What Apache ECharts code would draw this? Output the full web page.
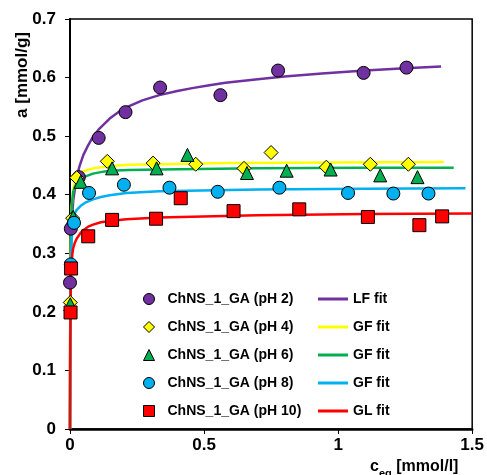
<!DOCTYPE html>
<html>
<head>
<meta charset="utf-8">
<script src="https://cdn.jsdelivr.net/npm/echarts@6/dist/echarts.min.js"></script>
<style>html,body{margin:0;padding:0;background:#fff;}#c{width:487px;height:475px;}</style>
</head>
<body>
<div id="c"></div>
<script>
// ---- measured data (c_eq [mmol/l], a [mmol/g]) ----
var ph2X = [0.000, 0.003, 0.033, 0.107, 0.207, 0.336, 0.561, 0.776, 1.095, 1.255];
var ph2Y = [0.250, 0.342, 0.430, 0.497, 0.541, 0.583, 0.570, 0.612, 0.608, 0.617];

var ph4X = [0.001, 0.010, 0.025, 0.139, 0.310, 0.469, 0.649, 0.750, 0.956, 1.120, 1.262];
var ph4Y = [0.216, 0.360, 0.429, 0.457, 0.454, 0.452, 0.445, 0.472, 0.447, 0.452, 0.452];

var ph6X = [0.001, 0.012, 0.040, 0.157, 0.323, 0.438, 0.660, 0.808, 0.972, 1.157, 1.296];
var ph6Y = [0.213, 0.362, 0.422, 0.445, 0.445, 0.468, 0.437, 0.441, 0.443, 0.433, 0.430];

var ph8X = [0.003, 0.015, 0.071, 0.201, 0.371, 0.551, 0.781, 1.037, 1.206, 1.337];
var ph8Y = [0.281, 0.352, 0.403, 0.417, 0.412, 0.405, 0.412, 0.403, 0.402, 0.402];

var ph10X = [0.002, 0.004, 0.068, 0.157, 0.321, 0.413, 0.610, 0.855, 1.111, 1.303, 1.388];
var ph10Y = [0.199, 0.274, 0.329, 0.357, 0.359, 0.394, 0.372, 0.375, 0.362, 0.348, 0.363];

// ---- fitted curves ----
var lfX = [0, 0.001, 0.003, 0.006, 0.012, 0.020, 0.028, 0.035, 0.050, 0.065, 0.086, 0.110, 0.148, 0.180, 0.210, 0.270, 0.333, 0.400, 0.456, 0.520, 0.580, 0.700, 0.800, 0.940, 1.100, 1.250, 1.384];
var lfY = [0, 0.220, 0.300, 0.350, 0.390, 0.415, 0.435, 0.448, 0.468, 0.482, 0.499, 0.513, 0.530, 0.541, 0.549, 0.561, 0.570, 0.577, 0.582, 0.587, 0.591, 0.597, 0.602, 0.607, 0.612, 0.616, 0.619];

var gf4X = [0, 0.001, 0.003, 0.006, 0.012, 0.018, 0.025, 0.035, 0.050, 0.070, 0.086, 0.120, 0.148, 0.220, 0.333, 0.600, 1.000, 1.394];
var gf4Y = [0, 0.220, 0.330, 0.380, 0.410, 0.422, 0.430, 0.436, 0.440, 0.443, 0.445, 0.447, 0.449, 0.451, 0.452, 0.454, 0.455, 0.456];

var gf6X = [0, 0.001, 0.003, 0.006, 0.009, 0.012, 0.018, 0.027, 0.037, 0.055, 0.086, 0.120, 0.148, 0.220, 0.333, 0.700, 1.100, 1.431];
var gf6Y = [0, 0.200, 0.310, 0.370, 0.393, 0.405, 0.414, 0.421, 0.426, 0.431, 0.436, 0.439, 0.441, 0.442, 0.443, 0.445, 0.446, 0.446];

var gf8X = [0, 0.001, 0.003, 0.006, 0.009, 0.012, 0.018, 0.025, 0.040, 0.055, 0.070, 0.086, 0.115, 0.148, 0.210, 0.333, 0.700, 1.100, 1.475];
var gf8Y = [0, 0.180, 0.270, 0.320, 0.345, 0.358, 0.368, 0.374, 0.381, 0.386, 0.389, 0.392, 0.396, 0.399, 0.403, 0.406, 0.409, 0.410, 0.411];

var glX = [0, 0.001, 0.003, 0.006, 0.009, 0.012, 0.018, 0.025, 0.040, 0.055, 0.070, 0.086, 0.115, 0.148, 0.210, 0.333, 0.700, 1.100, 1.500];
var glY = [0, 0.150, 0.250, 0.285, 0.300, 0.309, 0.318, 0.325, 0.335, 0.341, 0.346, 0.349, 0.353, 0.355, 0.358, 0.361, 0.365, 0.367, 0.368];

// ---- labels ----
var pointNames = ['ChNS_1_GA (pH 2)', 'ChNS_1_GA (pH 4)', 'ChNS_1_GA (pH 6)', 'ChNS_1_GA (pH 8)', 'ChNS_1_GA (pH 10)'];
var fitKeys = ['fit2', 'fit4', 'fit6', 'fit8', 'fit10'];
var fitLabels = ['LF fit', 'GF fit', 'GF fit', 'GF fit', 'GL fit'];
var xTicks = [0, 0.5, 1, 1.5];
var yTicks = [0, 0.1, 0.2, 0.3, 0.4, 0.5, 0.6, 0.7];
var xTitleMain = 'c', xTitleSub = 'eq', xTitleUnit = ' [mmol/l]';
var yTitle = 'a [mmol/g]';

var colors = ['#7030A0', '#FFFF00', '#00B050', '#00B0F0', '#FF0000'];
var symbols = ['circle', 'diamond', 'triangle', 'circle', 'rect'];
var symSizes = [13, 14, 13, 13, 13];
var FONT = '"Liberation Sans", Arial, sans-serif';

function zip(xs, ys) { return xs.map(function (x, i) { return [x, ys[i]]; }); }

var pts = [zip(ph2X, ph2Y), zip(ph4X, ph4Y), zip(ph6X, ph6Y), zip(ph8X, ph8Y), zip(ph10X, ph10Y)];
var fits = [zip(lfX, lfY), zip(gf4X, gf4Y), zip(gf6X, gf6Y), zip(gf8X, gf8Y), zip(glX, glY)];

var series = [];
fits.forEach(function (d, i) {
  series.push({
    name: fitKeys[i], type: 'line', data: d, showSymbol: false, symbol: 'none',
    smooth: false,
    lineStyle: { color: colors[i], width: 2.5, join: 'round' }, itemStyle: { color: colors[i] },
    z: 2 + i * 0.01, silent: true
  });
});
pts.forEach(function (d, i) {
  series.push({
    name: pointNames[i], type: 'scatter', data: d, symbol: symbols[i], symbolSize: symSizes[i],
    itemStyle: { color: colors[i], borderColor: '#000', borderWidth: 1, opacity: 1 },
    z: 3 + i * 0.01
  });
});

var fitLabelMap = {};
fitKeys.forEach(function (k, i) { fitLabelMap[k] = fitLabels[i]; });

var chart = echarts.init(document.getElementById('c'), null, { renderer: 'canvas' });
chart.setOption({
  animation: false,
  backgroundColor: '#fff',
  grid: { left: 70, right: 12, top: 19, bottom: 46, show: true, borderColor: '#000', borderWidth: 1.5, backgroundColor: 'transparent' },
  xAxis: {
    type: 'value', min: xTicks[0], max: xTicks[xTicks.length - 1], interval: 0.5,
    axisLine: { show: true, lineStyle: { color: '#000', width: 2.5 } },
    axisTick: { show: true, inside: false, length: 5, lineStyle: { color: '#000', width: 1 } },
    splitLine: { show: false },
    axisLabel: { margin: 8, color: '#000', fontSize: 17, fontWeight: 'bold', fontFamily: FONT,
      formatter: function (v) { return String(+v.toFixed(1)); } }
  },
  yAxis: {
    type: 'value', min: yTicks[0], max: yTicks[yTicks.length - 1], interval: 0.1,
    axisLine: { show: true, onZero: false, lineStyle: { color: '#000', width: 2 } },
    axisTick: { show: true, inside: false, length: 5, lineStyle: { color: '#000', width: 1 } },
    splitLine: { show: false },
    axisLabel: { margin: 14, color: '#000', fontSize: 17, fontWeight: 'bold', fontFamily: FONT,
      formatter: function (v) { return String(+v.toFixed(1)); } }
  },
  legend: [{
    data: pointNames.map(function (n, i) { return { name: n, icon: symbols[i] }; }),
    orient: 'vertical', left: 138, top: 287, itemWidth: 11, itemHeight: 11, itemGap: 14,
    itemStyle: { borderColor: '#000', borderWidth: 1 },
    textStyle: { color: '#000', fontSize: 14, fontWeight: 'bold', fontFamily: FONT, padding: [0, 0, 0, 8] },
    selectedMode: false
  }, {
    data: fitKeys.map(function (k) { return { name: k, icon: 'rect' }; }),
    orient: 'vertical', left: 313, top: 287, itemWidth: 30, itemHeight: 3, itemGap: 14,
    formatter: function (n) { return fitLabelMap[n]; },
    textStyle: { color: '#000', fontSize: 14, fontWeight: 'bold', fontFamily: FONT },
    selectedMode: false
  }],
  graphic: [{
    type: 'text', left: 14, top: 32, rotation: Math.PI / 2,
    style: { text: yTitle, fill: '#000', font: 'bold 17px ' + FONT }
  }, {
    type: 'text', x: 370, y: 459,
    style: {
      text: '{m|' + xTitleMain + '}{s|' + xTitleSub + '}{m|' + xTitleUnit + '}',
      rich: {
        m: { fontSize: 16, fontWeight: 'bold', fontFamily: FONT, fill: '#000', color: '#000', lineHeight: 20, verticalAlign: 'top' },
        s: { fontSize: 11, fontWeight: 'bold', fontFamily: FONT, fill: '#000', color: '#000', lineHeight: 20, verticalAlign: 'bottom', padding: [8, 0, 0, 0] }
      }
    }
  }],
  series: series
});
</script>
</body>
</html>
